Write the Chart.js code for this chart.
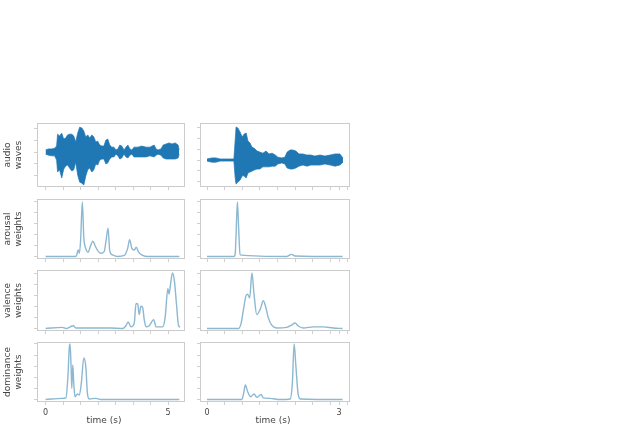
<!DOCTYPE html>
<html>
<head>
<meta charset="utf-8">
<script src="https://cdn.jsdelivr.net/npm/chart.js@4.4.1/dist/chart.umd.min.js"></script>
<style>
    html, body { margin: 0; padding: 0; background: #fff; }
    #wrap { position: relative; width: 638px; height: 429px; overflow: hidden; }
    #wrap canvas { position: absolute; }
    .xlabel {
        position: absolute;
        width: 80px;
        text-align: center;
        font: 9px 'DejaVu Sans', sans-serif;
        line-height: 11px;
        color: #444;
    }
</style>
</head>
<body>
<div id="wrap"></div>
<script>
// ---- values (time in seconds) ----

// audio envelope, left clip
const audioLeftT = [0.00, 0.12, 0.25, 0.37, 0.45, 0.49, 0.57, 0.66, 0.74, 0.82, 0.90, 0.98, 1.07, 1.15, 1.23, 1.31, 1.39, 1.48, 1.56, 1.64,
    1.72, 1.80, 1.89, 1.97, 2.05, 2.13, 2.21, 2.30, 2.38, 2.46, 2.54, 2.62, 2.70, 2.79, 2.87, 2.95, 3.03, 3.11, 3.20, 3.28,
    3.36, 3.44, 3.52, 3.61, 3.77, 3.93, 4.10, 4.26, 4.43, 4.51, 4.59, 4.71, 4.80, 4.92, 5.04, 5.16, 5.29, 5.41, 5.45];
const audioLeftTop = [0.06, 0.09, 0.09, 0.11, 0.17, 0.51, 0.46, 0.54, 0.37, 0.40, 0.49, 0.51, 0.51, 0.46, 0.29, 0.54, 0.71, 0.69, 0.60, 0.43,
    0.49, 0.40, 0.49, 0.43, 0.29, 0.31, 0.20, 0.17, 0.17, 0.34, 0.37, 0.20, 0.14, 0.14, 0.06, 0.09, 0.20, 0.17, 0.06, 0.14,
    0.20, 0.09, 0.06, 0.14, 0.14, 0.17, 0.14, 0.14, 0.20, 0.09, 0.06, 0.09, 0.20, 0.23, 0.26, 0.23, 0.26, 0.20, 0.06];
const audioLeftBottom = [-0.06, -0.09, -0.11, -0.11, -0.23, -0.57, -0.51, -0.74, -0.49, -0.40, -0.37, -0.46, -0.54, -0.51, -0.29, -0.66, -0.86, -0.89, -0.94, -0.69,
    -0.51, -0.46, -0.57, -0.51, -0.34, -0.37, -0.23, -0.20, -0.20, -0.34, -0.31, -0.20, -0.14, -0.14, -0.06, -0.11, -0.20, -0.17, -0.06, -0.14,
    -0.17, -0.09, -0.06, -0.14, -0.14, -0.14, -0.14, -0.11, -0.14, -0.09, -0.06, -0.09, -0.17, -0.20, -0.20, -0.20, -0.20, -0.17, -0.06];

// audio envelope, right clip
const audioRightT = [0.00, 0.11, 0.20, 0.30, 0.48, 0.61, 0.64, 0.66, 0.70, 0.75, 0.80, 0.84, 0.89, 0.93, 0.98, 1.02, 1.07, 1.14, 1.20, 1.27,
    1.34, 1.41, 1.48, 1.55, 1.61, 1.70, 1.77, 1.82, 1.89, 1.95, 2.02, 2.09, 2.18, 2.27, 2.36, 2.45, 2.57, 2.68, 2.80, 2.91,
    3.02, 3.09];
const audioRightTop = [0.03, 0.06, 0.06, 0.03, 0.03, 0.03, 0.56, 0.92, 0.89, 0.78, 0.64, 0.72, 0.75, 0.53, 0.47, 0.36, 0.33, 0.25, 0.22, 0.19,
    0.25, 0.17, 0.19, 0.14, 0.08, 0.06, 0.08, 0.22, 0.28, 0.28, 0.25, 0.17, 0.17, 0.14, 0.14, 0.11, 0.14, 0.11, 0.14, 0.17,
    0.17, 0.06];
const audioRightBottom = [-0.03, -0.06, -0.06, -0.03, -0.03, -0.03, -0.50, -0.67, -0.61, -0.56, -0.44, -0.44, -0.50, -0.36, -0.33, -0.31, -0.28, -0.25, -0.25, -0.19,
    -0.19, -0.19, -0.17, -0.17, -0.11, -0.08, -0.11, -0.22, -0.25, -0.25, -0.22, -0.17, -0.14, -0.17, -0.14, -0.14, -0.14, -0.11, -0.14, -0.17,
    -0.14, -0.06];

// attention weights (peak normalised to 1)
const arousalLeftT = [0, 1.23, 1.27, 1.33, 1.38, 1.43, 1.50, 1.56, 1.64, 1.73, 1.84, 1.93, 2.04, 2.14, 2.25, 2.39, 2.47, 2.55, 2.62, 2.73,
    2.94, 3.21, 3.35, 3.43, 3.52, 3.62, 3.70, 3.80, 3.96, 4.17, 5.46];
const arousalLeftW = [0, 0, 0.03, 0.12, 0.06, 0.30, 1.00, 0.35, 0.15, 0.08, 0.20, 0.28, 0.18, 0.10, 0.06, 0.09, 0.30, 0.52, 0.10, 0.03,
    0, 0.02, 0.15, 0.31, 0.15, 0.12, 0.17, 0.08, 0.02, 0, 0];
const arousalRightT = [0, 0.61, 0.64, 0.66, 0.69, 0.72, 0.75, 1.81, 1.92, 2.00, 3.08];
const arousalRightW = [0, 0, 0.05, 0.40, 1.00, 0.50, 0.03, 0, 0.04, 0.01, 0];

const valenceLeftT = [0, 0.68, 0.85, 1.13, 1.23, 1.91, 2.66, 3.14, 3.28, 3.37, 3.48, 3.62, 3.69, 3.76, 3.82, 3.89, 3.96, 4.03, 4.10, 4.23,
    4.41, 4.51, 4.78, 4.88, 4.99, 5.04, 5.10, 5.18, 5.26, 5.34, 5.42, 5.48];
const valenceLeftW = [0, 0.02, 0, 0.05, 0.01, 0.01, 0.01, 0, 0.05, 0.12, 0.03, 0.10, 0.45, 0.44, 0.25, 0.40, 0.38, 0.15, 0.03, 0.05,
    0.16, 0.03, 0.03, 0.20, 0.72, 0.62, 0.80, 1.00, 0.85, 0.45, 0.07, 0.02];
const valenceRightT = [0, 0.71, 0.77, 0.83, 0.88, 0.92, 0.97, 1.02, 1.07, 1.13, 1.21, 1.28, 1.34, 1.39, 1.47, 1.58, 1.81, 1.92, 2.00, 2.08,
    2.19, 2.42, 2.64, 2.87, 3.08];
const valenceRightW = [0, 0, 0.08, 0.35, 0.58, 0.62, 0.55, 1.00, 0.60, 0.25, 0.35, 0.50, 0.37, 0.20, 0.06, 0.01, 0.02, 0.06, 0.10, 0.04,
    0.01, 0.03, 0.03, 0.01, 0];

const dominanceLeftT = [0, 0.68, 0.83, 0.91, 0.97, 1.00, 1.04, 1.07, 1.11, 1.15, 1.20, 1.30, 1.38, 1.46, 1.56, 1.64, 1.71, 1.78, 2.05, 2.25, 5.46];
const dominanceLeftW = [0, 0.02, 0.03, 0.40, 0.95, 1.00, 0.60, 0.20, 0.62, 0.30, 0.05, 0.10, 0.08, 0.30, 0.75, 0.60, 0.10, 0.01, 0.02, 0, 0];
const dominanceRightT = [0, 0.79, 0.83, 0.87, 0.92, 0.99, 1.07, 1.13, 1.23, 1.28, 1.43, 1.66, 1.89, 1.94, 1.98, 2.02, 2.07, 2.12, 3.08];
const dominanceRightW = [0, 0, 0.10, 0.26, 0.15, 0.05, 0.10, 0.04, 0.09, 0.03, 0.02, 0, 0.01, 0.30, 1.00, 0.60, 0.10, 0.01, 0];

// axis ticks
const leftTimeTicks = [0, 0.714, 1.429, 2.143, 2.857, 3.571, 4.286, 5];
const leftTimeLabels = [0, 5];
const rightTimeTicks = [0, 0.4, 0.8, 1.2, 1.6, 2.0, 2.4, 2.8, 3, 3.2];
const rightTimeLabels = [0, 3];
const audioLeftYTicks = [-0.66, -0.33, 0, 0.33, 0.66];
const audioRightYTicks = [-0.6, -0.3, 0, 0.3, 0.6, 0.9];
const weightYTicks = [0, 0.2, 0.4, 0.6, 0.8, 1.0];

const rowLabels = [['audio', 'waves'], ['arousal', 'weights'], ['valence', 'weights'], ['dominance', 'weights']];
const xTitle = 'time (s)';

// ---- drawing ----
const FONT = "'DejaVu Sans', sans-serif";
const WAVE = '#1f77b4';
const WEIGHT = 'rgba(70, 140, 180, 0.62)';
const FRAME = '#cccccc';
const TICK = '#d0d0d0';
const TEXT = '#444444';

const ROWS = [
    { top: 123, height: 64 },
    { top: 199, height: 60 },
    { top: 270, height: 61 },
    { top: 342, height: 60 },
];

const COLS = [
    { left: 0, plotLeft: 37, plotRight: 185, xMin: -0.35, xMax: 5.69, ticks: leftTimeTicks, labels: leftTimeLabels, titleCenter: 104 },
    { left: 190, plotLeft: 200, plotRight: 350, xMin: -0.16, xMax: 3.25, ticks: rightTimeTicks, labels: rightTimeLabels, titleCenter: 273 },
];

const framePlugin = {
    id: 'frame',
    afterDraw: function (chart) {
        const a = chart.chartArea;
        const ctx = chart.ctx;
        ctx.save();
        ctx.strokeStyle = FRAME;
        ctx.lineWidth = 1;
        ctx.strokeRect(Math.round(a.left) + 0.5, Math.round(a.top) + 0.5,
            Math.round(a.right - a.left) - 1, Math.round(a.bottom - a.top) - 1);
        ctx.restore();
    },
};

function points(t, v) {
    return t.map(function (x, i) {
        return { x: x, y: v[i] };
    });
}

function bandDatasets(t, top, bottom) {
    const line = { borderColor: WAVE, borderWidth: 0.7, borderJoinStyle: 'miter', pointRadius: 0, tension: 0 };
    return [
        Object.assign({ data: points(t, top), backgroundColor: WAVE, fill: '+1' }, line),
        Object.assign({ data: points(t, bottom), fill: false }, line),
    ];
}

function weightDatasets(t, w) {
    return [
        { data: points(t, w), borderColor: WEIGHT, borderWidth: 1.4, pointRadius: 0, fill: false, cubicInterpolationMode: 'monotone' },
    ];
}

function setTicks(values) {
    return function (scale) {
        scale.ticks = values.map(function (v) {
            return { value: v };
        });
    };
}

function makePanel(rowIndex, colIndex, datasets, yMin, yMax, yTicks) {
    const row = ROWS[rowIndex];
    const col = COLS[colIndex];
    const isBottom = rowIndex === ROWS.length - 1;
    const yAxisWidth = col.plotLeft - col.left;
    const xAxisHeight = isBottom ? 20 : 6;

    const canvas = document.createElement('canvas');
    canvas.width = col.plotRight - col.left + 1;
    canvas.height = row.height + 1 + xAxisHeight;
    canvas.style.left = col.left + 'px';
    canvas.style.top = (row.top - 1) + 'px';
    document.getElementById('wrap').appendChild(canvas);

    const grid = { drawOnChartArea: false, drawTicks: true, tickLength: 3, color: TICK };

    return new Chart(canvas.getContext('2d'), {
        type: 'line',
        data: { datasets: datasets },
        plugins: [framePlugin],
        options: {
            responsive: false,
            animation: false,
            events: [],
            layout: { padding: { top: 1, right: 1, left: 0, bottom: 0 } },
            plugins: { legend: { display: false }, tooltip: { enabled: false } },
            scales: {
                x: {
                    type: 'linear',
                    min: col.xMin,
                    max: col.xMax,
                    afterBuildTicks: setTicks(col.ticks),
                    afterFit: function (scale) {
                        scale.height = xAxisHeight;
                    },
                    grid: grid,
                    border: { display: false },
                    ticks: {
                        display: isBottom,
                        autoSkip: false,
                        maxRotation: 0,
                        padding: 3,
                        color: TEXT,
                        font: { family: FONT, size: 8 },
                        callback: function (value) {
                            const hit = col.labels.some(function (l) {
                                return Math.abs(l - value) < 1e-6;
                            });
                            return hit ? String(value) : '';
                        },
                    },
                },
                y: {
                    type: 'linear',
                    min: yMin,
                    max: yMax,
                    afterBuildTicks: setTicks(yTicks),
                    afterFit: function (scale) {
                        scale.width = yAxisWidth;
                    },
                    grid: grid,
                    border: { display: false },
                    ticks: { display: false },
                    title: {
                        display: colIndex === 0,
                        text: rowLabels[rowIndex],
                        color: TEXT,
                        font: { family: FONT, size: 9, lineHeight: 1.22 },
                        padding: { top: 2.5, bottom: 0 },
                    },
                },
            },
        },
    });
}

function init() {
    makePanel(0, 0, bandDatasets(audioLeftT, audioLeftTop, audioLeftBottom), -1.0, 0.83, audioLeftYTicks);
    makePanel(0, 1, bandDatasets(audioRightT, audioRightTop, audioRightBottom), -0.75, 1.03, audioRightYTicks);

    makePanel(1, 0, weightDatasets(arousalLeftT, arousalLeftW), -0.045, 1.055, weightYTicks);
    makePanel(1, 1, weightDatasets(arousalRightT, arousalRightW), -0.045, 1.055, weightYTicks);

    makePanel(2, 0, weightDatasets(valenceLeftT, valenceLeftW), -0.045, 1.055, weightYTicks);
    makePanel(2, 1, weightDatasets(valenceRightT, valenceRightW), -0.045, 1.055, weightYTicks);

    makePanel(3, 0, weightDatasets(dominanceLeftT, dominanceLeftW), -0.045, 1.035, weightYTicks);
    makePanel(3, 1, weightDatasets(dominanceRightT, dominanceRightW), -0.045, 1.035, weightYTicks);

    COLS.forEach(function (col) {
        const el = document.createElement('div');
        el.className = 'xlabel';
        el.textContent = xTitle;
        el.style.left = (col.titleCenter - 40) + 'px';
        el.style.top = '415px';
        document.getElementById('wrap').appendChild(el);
    });
}

init();
</script>
</body>
</html>
